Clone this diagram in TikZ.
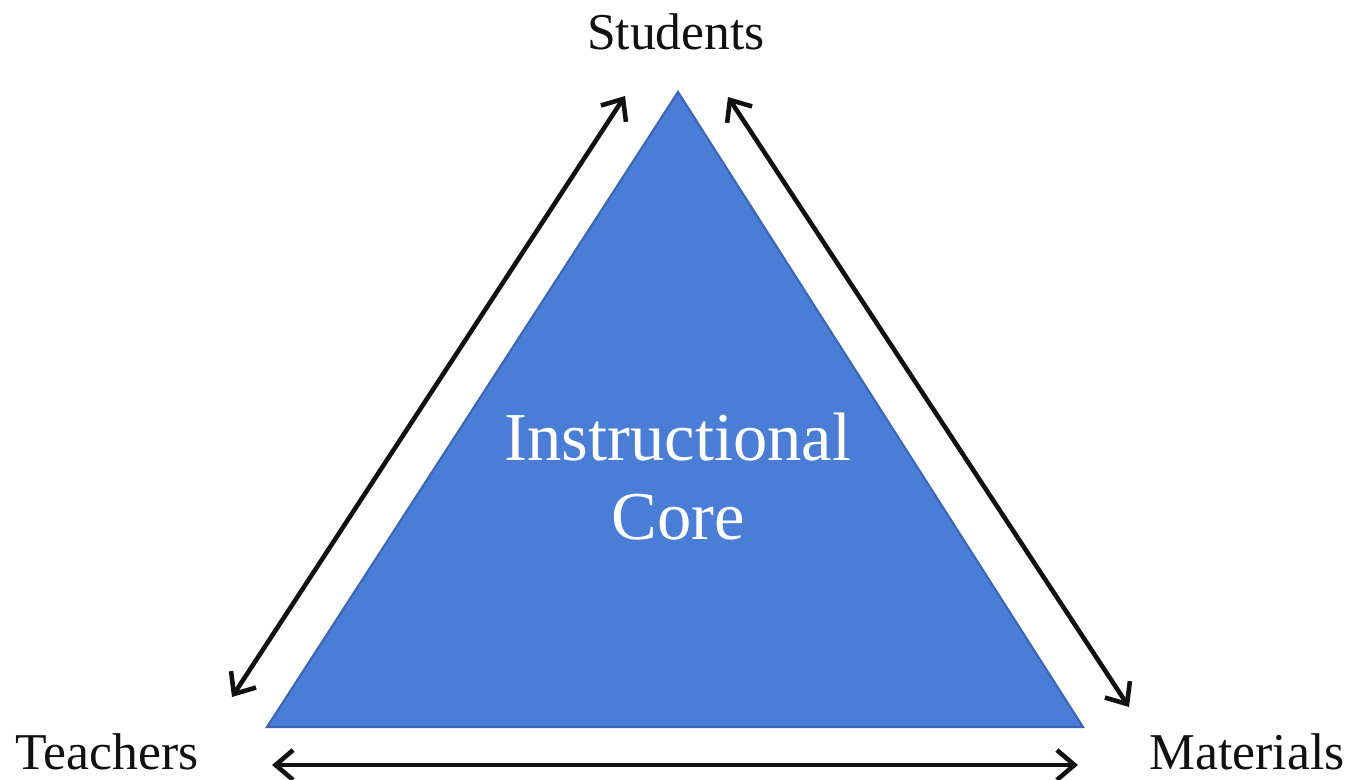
\documentclass[tikz,border=0pt]{standalone}
\usepackage{fontspec}
\setmainfont{Liberation Serif}
\usepackage{xcolor}
\usepackage{tikz}
\usetikzlibrary{calc,arrows.meta}
\definecolor{bg}{HTML}{FFFFFF}
\definecolor{core}{HTML}{4A7DD6}
\definecolor{coreedge}{HTML}{3B66B8}
\definecolor{ink}{HTML}{111111}
\tikzset{
  corefill/.style={fill=core, draw=coreedge, line width=1.2pt, line join=miter},
  link/.style={draw=ink, line width=2.6pt, {Straight Barb[length=10pt,width=17pt,line width=2.6pt]}-{Straight Barb[length=10pt,width=17pt,line width=2.6pt]}},
  lab/.style={text=ink, font=\fontsize{29.4}{34}\selectfont, inner sep=0pt},
  corelab/.style={text=white, font=\fontsize{39}{45}\selectfont, align=center, inner sep=0pt},
}

\begin{document}
\begin{tikzpicture}[x=0.02cm, y=-0.02cm]
  \useasboundingbox[fill=bg] (0,0) rectangle (1353,780);
  % triangle corners
  \coordinate (S) at (678,92);
  \coordinate (T) at (267,727);
  \coordinate (M) at (1083,727);
  \draw[corefill] (S) -- (T) -- (M) -- cycle;
  \node[corelab] (core) at (678,477) {Instructional\\Core};
  % labels
  \node[lab] (students) at (676,32) {Students};
  \node[lab] (teachers) at (107,752) {Teachers};
  \node[lab] (materials) at (1247,752) {Materials};
  % arrow ends
  \coordinate (ls) at (625,96);
  \coordinate (lt) at (232,697);
  \coordinate (rs) at (728,97);
  \coordinate (rm) at (1129,707);
  \coordinate (bt) at (272,765);
  \coordinate (bm) at (1078,765);
  \draw[link] (ls) -- (lt);
  \draw[link] (rs) -- (rm);
  \draw[link] (bt) -- (bm);
\end{tikzpicture}
\end{document}
